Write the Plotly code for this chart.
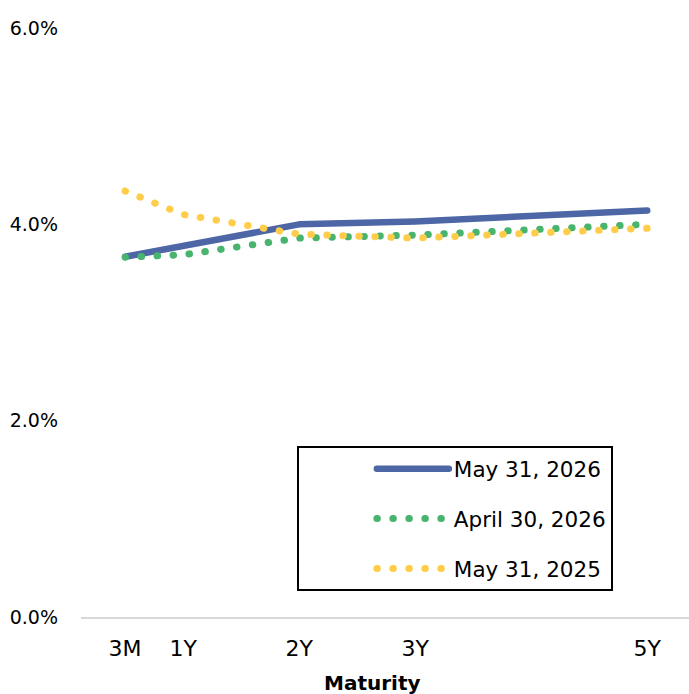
import plotly.graph_objects as go

# Tenor grid (evenly spaced slots on the category axis) and labelled maturities
tenor_slots = ["3M", "1Y", "1.5Y", "2Y", "2.5Y", "3Y", "3.5Y", "4Y", "4.5Y", "5Y"]
maturities = ["3M", "1Y", "2Y", "3Y", "5Y"]

may_2026 = [3.67, 3.78, 4.00, 4.03, 4.14]
apr_2026 = [3.665, 3.69, 3.86, 3.89, 4.00]
may_2025 = [4.34, 4.10, 3.90, 3.86, 3.96]

y_ticks = [0, 2, 4, 6]
y_tick_text = ["0.0%", "2.0%", "4.0%", "6.0%"]

FONT = "DejaVu Sans"
BLUE = "#4C66A6"
GREEN = "#48B46E"
YELLOW = "#FFCD4A"

fig = go.Figure()
fig.add_trace(go.Scatter(x=maturities, y=may_2026, mode="lines", name="May 31, 2026",
                         legendgroup="a",
                         line=dict(color=BLUE, width=6.5)))
fig.add_trace(go.Scatter(x=maturities, y=apr_2026, mode="lines", name="April 30, 2026",
                         legendgroup="b",
                         line=dict(color=GREEN, width=7, dash="0.5px,15.5px")))
fig.add_trace(go.Scatter(x=maturities, y=may_2025, mode="lines", name="May 31, 2025",
                         legendgroup="c",
                         line=dict(color=YELLOW, width=7, dash="0.5px,15.5px")))

fig.update_layout(
    width=689, height=694,
    margin=dict(l=81, r=0, t=28, b=77),
    paper_bgcolor="white", plot_bgcolor="white",
    font=dict(family=FONT, size=19, color="#000000"),
    showlegend=True,
    legend=dict(x=0.355, y=0.29, xanchor="left", yanchor="top",
                bordercolor="#000000", borderwidth=2, bgcolor="white",
                font=dict(family=FONT, size=21.5, color="#000000"),
                itemwidth=72, indentation=73, tracegroupgap=19,
                traceorder="grouped"),
    xaxis=dict(type="category", categoryorder="array", categoryarray=tenor_slots,
               range=[-0.76, 9.72], tickmode="array", tickvals=maturities,
               ticktext=maturities, showgrid=False, zeroline=False,
               showline=True, linecolor="#D9D9D9", linewidth=1.5,
               ticks="", ticklabelstandoff=11,
               tickfont=dict(family=FONT, size=22, color="#000000")),
    yaxis=dict(range=[0, 6], tickmode="array", tickvals=y_ticks, ticktext=y_tick_text,
               showgrid=False, zeroline=False, showline=False, ticks="",
               ticklabelstandoff=22,
               tickfont=dict(family=FONT, size=19, color="#000000")),
    annotations=[dict(text="<b>Maturity</b>", xref="paper", yref="paper",
                      x=0.479, y=0, yshift=-66, xanchor="center", yanchor="middle",
                      showarrow=False, font=dict(family=FONT, size=20, color="#000000"))],
)

js = """
document.body.style.margin = '0';
document.body.style.overflow = 'hidden';
var gd = document.getElementById('{plot_id}');
function rc(){
  gd.querySelectorAll('path.js-line').forEach(function(p){
    p.style.strokeLinecap = 'round';
    p.style.strokeLinejoin = 'round';
  });
}
rc();
gd.on('plotly_afterplot', rc);
"""
fig.write_html("out.html", post_script=js, config={"displayModeBar": False})
